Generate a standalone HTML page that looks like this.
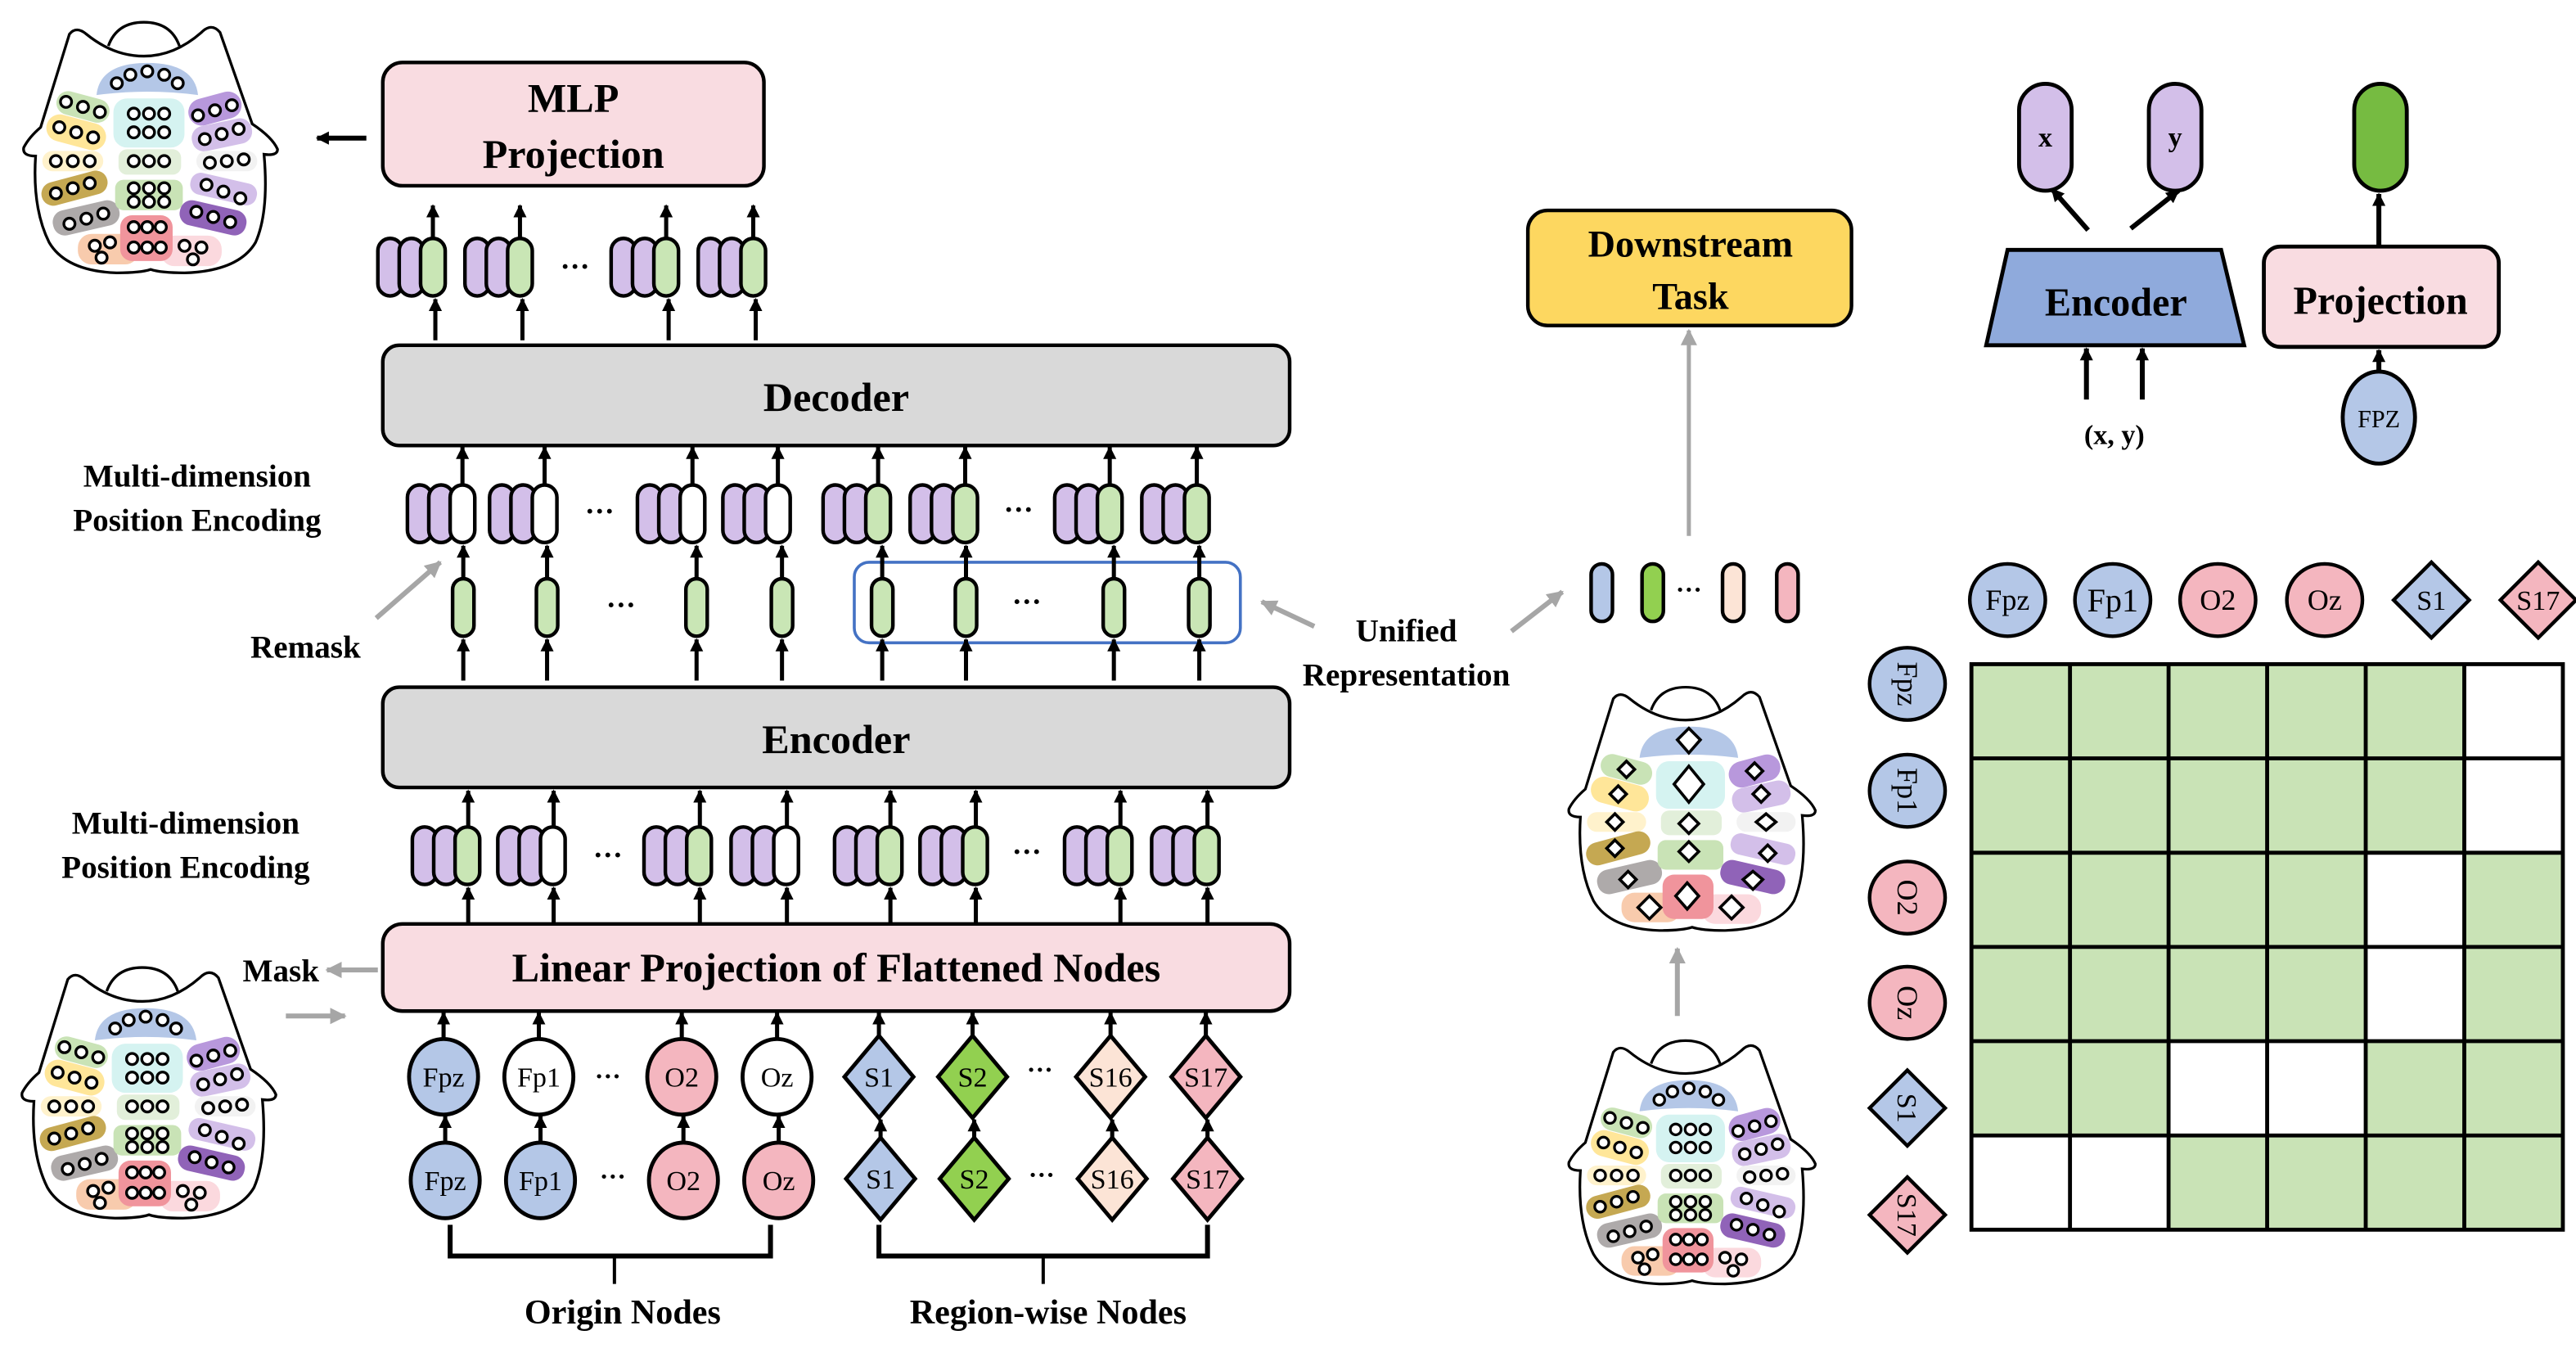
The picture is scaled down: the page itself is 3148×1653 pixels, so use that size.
<!DOCTYPE html>
<html><head><meta charset="utf-8"><style>
html,body{margin:0;padding:0;background:#fff}
svg{display:block}
.b{font-family:"Liberation Serif",serif;font-weight:bold;fill:#000}
.r{font-family:"Liberation Serif",serif;fill:#000}
</style></head><body>
<svg width="3148" height="1653" viewBox="0 0 1568 823" preserveAspectRatio="none" xmlns="http://www.w3.org/2000/svg" xmlns:xlink="http://www.w3.org/1999/xlink">
<defs>
<marker id="ah" viewBox="0 0 10 10" refX="9" refY="5" markerWidth="8" markerHeight="9" markerUnits="userSpaceOnUse" orient="auto"><path d="M0,0 L10,5 L0,10 Z" fill="#000"/></marker>
<marker id="ahg" viewBox="0 0 10 10" refX="9" refY="5" markerWidth="10" markerHeight="10" markerUnits="userSpaceOnUse" orient="auto"><path d="M0,0 L10,5 L0,10 Z" fill="#a6a6a6"/></marker>
<g id="brain">
<path d="M65,32 Q70,18 86,18 Q102,18 107,32" fill="#fff" stroke="#000" stroke-width="1.6"/>
<path d="M42,25 Q46,20 52,25 Q68,38 86,38 Q104,38 120,24 Q126,18 131,24 L150,78 Q162,86 165,93 Q165,97 157,96 Q160,130 152,148 Q142,165 110,166 Q96,166 90,164 Q84,166 70,166 Q40,165 30,148 Q20,128 22,97 Q14,97 15,92 Q18,86 25,80 Z" fill="#fff" stroke="#000" stroke-width="1.6"/>
<path d="M58,61 Q60,42 88,42 Q116,42 118,61 Q88,57 58,61Z" fill="#b4c7e7"/>
<rect x="34" y="61" width="32" height="14" rx="7" fill="#c9e3b6" transform="rotate(15 50 68)"/>
<rect x="28" y="75" width="36" height="16" rx="8" fill="#ffe699" transform="rotate(15 46 83)"/>
<rect x="26" y="94" width="36" height="12" rx="6" fill="#fff2cc"/>
<rect x="25" y="109" width="40" height="14" rx="7" fill="#c5a852" transform="rotate(-15 45 116)"/>
<rect x="32" y="126" width="40" height="15" rx="7" fill="#aeaaaa" transform="rotate(-13 52 134)"/>
<rect x="47" y="143" width="36" height="18" rx="8" fill="#f8cbad"/>
<rect x="96" y="144" width="36" height="18" rx="8" fill="#fbd9de"/>
<rect x="68" y="63" width="42" height="29" rx="8" fill="#d5f3f1"/>
<rect x="71" y="93" width="37" height="15" rx="5" fill="#e2efda"/>
<rect x="69" y="111" width="40" height="18" rx="5" fill="#c9e3b6"/>
<rect x="72" y="132" width="31" height="27" rx="7" fill="#f0949c"/>
<rect x="112" y="61" width="32" height="16" rx="8" fill="#b898dc" transform="rotate(-15 128 69)"/>
<rect x="114" y="77" width="36" height="15" rx="7" fill="#d3bfe9" transform="rotate(-12 132 84)"/>
<rect x="117" y="94" width="36" height="12" rx="6" fill="#f2f2f2"/>
<rect x="113" y="110" width="40" height="13" rx="6" fill="#d3bfe9" transform="rotate(13 133 117)"/>
<rect x="107" y="126" width="40" height="15" rx="7" fill="#9063b8" transform="rotate(13 127 133)"/>
</g>
<g id="circ" fill="#fff" stroke="#000" stroke-width="1.6">
<circle cx="70" cy="54" r="3.3"/><circle cx="78" cy="49" r="3.3"/><circle cx="88" cy="47" r="3.3"/><circle cx="98" cy="49" r="3.3"/><circle cx="106" cy="54" r="3.3"/>
<circle cx="40" cy="65" r="3.3"/><circle cx="50" cy="68" r="3.3"/><circle cx="60" cy="71" r="3.3"/>
<circle cx="36" cy="80" r="3.3"/><circle cx="46" cy="83" r="3.3"/><circle cx="56" cy="86" r="3.3"/>
<circle cx="34" cy="100" r="3.3"/><circle cx="44" cy="100" r="3.3"/><circle cx="54" cy="100" r="3.3"/>
<circle cx="34" cy="119" r="3.3"/><circle cx="44" cy="116" r="3.3"/><circle cx="54" cy="113" r="3.3"/>
<circle cx="42" cy="137" r="3.3"/><circle cx="52" cy="134" r="3.3"/><circle cx="62" cy="131" r="3.3"/>
<circle cx="57" cy="150" r="3.3"/><circle cx="66" cy="148" r="3.3"/><circle cx="61" cy="157" r="3.3"/>
<circle cx="80" cy="72" r="3.3"/><circle cx="89" cy="72" r="3.3"/><circle cx="98" cy="72" r="3.3"/><circle cx="80" cy="83" r="3.3"/><circle cx="89" cy="83" r="3.3"/><circle cx="98" cy="83" r="3.3"/>
<circle cx="80" cy="100" r="3.3"/><circle cx="89" cy="100" r="3.3"/><circle cx="98" cy="100" r="3.3"/>
<circle cx="80" cy="116" r="3.3"/><circle cx="89" cy="116" r="3.3"/><circle cx="98" cy="116" r="3.3"/><circle cx="80" cy="124" r="3.3"/><circle cx="89" cy="124" r="3.3"/><circle cx="98" cy="124" r="3.3"/>
<circle cx="80" cy="139" r="3.3"/><circle cx="88" cy="139" r="3.3"/><circle cx="96" cy="139" r="3.3"/><circle cx="80" cy="151" r="3.3"/><circle cx="88" cy="151" r="3.3"/><circle cx="96" cy="151" r="3.3"/>
<circle cx="110" cy="150" r="3.3"/><circle cx="120" cy="151" r="3.3"/><circle cx="115" cy="158" r="3.3"/>
<circle cx="118" cy="73" r="3.3"/><circle cx="128" cy="70" r="3.3"/><circle cx="138" cy="67" r="3.3"/>
<circle cx="122" cy="87" r="3.3"/><circle cx="132" cy="84" r="3.3"/><circle cx="142" cy="81" r="3.3"/>
<circle cx="125" cy="101" r="3.3"/><circle cx="135" cy="100" r="3.3"/><circle cx="145" cy="99" r="3.3"/>
<circle cx="123" cy="114" r="3.3"/><circle cx="133" cy="118" r="3.3"/><circle cx="143" cy="122" r="3.3"/>
<circle cx="117" cy="130" r="3.3"/><circle cx="127" cy="133" r="3.3"/><circle cx="137" cy="136" r="3.3"/>
</g>
<g id="diam" fill="#fff" stroke="#000" stroke-width="1.8">
<path d="M88,43 l7,7 l-7,8 l-7,-8z"/>
<path d="M50,63 l5,5 l-5,5 l-5,-5z"/><path d="M45,78 l5,5 l-5,5 l-5,-5z"/><path d="M43,95 l5,5 l-5,5 l-5,-5z"/>
<path d="M43,111 l5,5 l-5,5 l-5,-5z"/><path d="M51,130 l5,5 l-5,5 l-5,-5z"/><path d="M64,145 l7,7 l-7,7 l-7,-7z"/>
<path d="M88,66 l9,11 l-9,11 l-9,-11z"/><path d="M88,95 l6,6 l-6,6 l-6,-6z"/><path d="M88,112 l6,6 l-6,6 l-6,-6z"/>
<path d="M87,137 l7,8 l-7,8 l-7,-8z"/><path d="M114,145 l7,7 l-7,7 l-7,-7z"/>
<path d="M128,64 l5,5 l-5,5 l-5,-5z"/><path d="M132,78 l5,5 l-5,5 l-5,-5z"/><path d="M135,95 l6,5 l-6,5 l-6,-5z"/>
<path d="M136,114 l5,5 l-5,5 l-5,-5z"/><path d="M127,130 l6,5 l-6,6 l-6,-6z"/>
</g>
<g id="g3p" stroke="#000" stroke-width="2.2"><rect x="0" y="0" width="15" height="35" rx="7.5" fill="#d3bfe9"/><rect x="13" y="0" width="15" height="35" rx="7.5" fill="#d3bfe9"/><rect x="26" y="0" width="15" height="35" rx="7.5" fill="#c9e6b5"/></g>
<g id="g3w" stroke="#000" stroke-width="2.2"><rect x="0" y="0" width="15" height="35" rx="7.5" fill="#d3bfe9"/><rect x="13" y="0" width="15" height="35" rx="7.5" fill="#d3bfe9"/><rect x="26" y="0" width="15" height="35" rx="7.5" fill="#fff"/></g>
<rect id="sg" x="-6.5" y="0" width="13" height="35" rx="6.5" fill="#c9e6b5" stroke="#000" stroke-width="2.2"/>
</defs>

<g transform="translate(-1,-5) scale(1.03)"><use xlink:href="#brain"/><use xlink:href="#circ"/></g>
<g transform="translate(-2,570) scale(1.03)"><use xlink:href="#brain"/><use xlink:href="#circ"/></g>
<g transform="translate(940,400)"><use xlink:href="#brain"/><use xlink:href="#diam"/></g>
<g transform="translate(940,615)"><use xlink:href="#brain"/><use xlink:href="#circ"/></g>

<rect x="233" y="38" width="232" height="75" rx="12" fill="#f9dce1" stroke="#000" stroke-width="2.2"/>
<text class="b" x="349" y="68" font-size="25" text-anchor="middle">MLP</text>
<text class="b" x="349" y="102" font-size="25" text-anchor="middle">Projection</text>
<line x1="223" y1="84" x2="193" y2="84" stroke="#000" stroke-width="3" marker-end="url(#ah)"/>

<use xlink:href="#g3p" x="230" y="145"/><use xlink:href="#g3p" x="283" y="145"/><use xlink:href="#g3p" x="372" y="145"/><use xlink:href="#g3p" x="425" y="145"/>
<text class="b" x="350" y="168" font-size="18" text-anchor="middle">···</text>
<g stroke="#000" stroke-width="2.5" marker-end="url(#ah)">
<line x1="263.5" y1="145" x2="263.5" y2="125"/><line x1="316.5" y1="145" x2="316.5" y2="125"/><line x1="405.5" y1="145" x2="405.5" y2="125"/><line x1="458.5" y1="145" x2="458.5" y2="125"/>
<line x1="265" y1="207" x2="265" y2="182"/><line x1="318" y1="207" x2="318" y2="182"/><line x1="407" y1="207" x2="407" y2="182"/><line x1="460" y1="207" x2="460" y2="182"/>
</g>

<rect x="233" y="210" width="552" height="61" rx="10" fill="#d9d9d9" stroke="#000" stroke-width="2.2"/>
<text class="b" x="509" y="250" font-size="25" text-anchor="middle">Decoder</text>

<text class="b" x="120" y="296" font-size="19.5" text-anchor="middle">Multi-dimension</text>
<text class="b" x="120" y="323" font-size="19.5" text-anchor="middle">Position Encoding</text>

<use xlink:href="#g3w" x="248" y="295"/><use xlink:href="#g3w" x="298" y="295"/><use xlink:href="#g3w" x="388" y="295"/><use xlink:href="#g3w" x="440" y="295"/>
<use xlink:href="#g3p" x="501" y="295"/><use xlink:href="#g3p" x="554" y="295"/><use xlink:href="#g3p" x="642" y="295"/><use xlink:href="#g3p" x="695" y="295"/>
<text class="b" x="365" y="317" font-size="18" text-anchor="middle">···</text>
<text class="b" x="620" y="316" font-size="18" text-anchor="middle">···</text>
<g stroke="#000" stroke-width="2.5" marker-end="url(#ah)">
<line x1="281.5" y1="295" x2="281.5" y2="272"/><line x1="331.5" y1="295" x2="331.5" y2="272"/><line x1="421.5" y1="295" x2="421.5" y2="272"/><line x1="473.5" y1="295" x2="473.5" y2="272"/>
<line x1="534.5" y1="295" x2="534.5" y2="272"/><line x1="587.5" y1="295" x2="587.5" y2="272"/><line x1="675.5" y1="295" x2="675.5" y2="272"/><line x1="728.5" y1="295" x2="728.5" y2="272"/>
</g>

<rect x="520" y="342" width="235" height="49" rx="9" fill="none" stroke="#4472c4" stroke-width="1.8"/>
<use xlink:href="#sg" x="282" y="352"/><use xlink:href="#sg" x="333" y="352"/><use xlink:href="#sg" x="424" y="352"/><use xlink:href="#sg" x="476" y="352"/>
<use xlink:href="#sg" x="537" y="352"/><use xlink:href="#sg" x="588" y="352"/><use xlink:href="#sg" x="678" y="352"/><use xlink:href="#sg" x="730" y="352"/>
<text class="b" x="378" y="374" font-size="18" text-anchor="middle">···</text>
<text class="b" x="625" y="372" font-size="18" text-anchor="middle">···</text>
<g stroke="#000" stroke-width="2.5" marker-end="url(#ah)">
<line x1="282" y1="352" x2="282" y2="332"/><line x1="333" y1="352" x2="333" y2="332"/><line x1="424" y1="352" x2="424" y2="332"/><line x1="476" y1="352" x2="476" y2="332"/>
<line x1="537" y1="352" x2="537" y2="332"/><line x1="588" y1="352" x2="588" y2="332"/><line x1="678" y1="352" x2="678" y2="332"/><line x1="730" y1="352" x2="730" y2="332"/>
<line x1="282" y1="414" x2="282" y2="389"/><line x1="333" y1="414" x2="333" y2="389"/><line x1="424" y1="414" x2="424" y2="389"/><line x1="476" y1="414" x2="476" y2="389"/>
<line x1="537" y1="414" x2="537" y2="389"/><line x1="588" y1="414" x2="588" y2="389"/><line x1="678" y1="414" x2="678" y2="389"/><line x1="730" y1="414" x2="730" y2="389"/>
</g>

<text class="b" x="186" y="400" font-size="19.5" text-anchor="middle">Remask</text>
<line x1="229" y1="376" x2="268" y2="342" stroke="#a6a6a6" stroke-width="3" marker-end="url(#ahg)"/>
<text class="b" x="856" y="390" font-size="19.5" text-anchor="middle">Unified</text>
<text class="b" x="856" y="417" font-size="19.5" text-anchor="middle">Representation</text>
<line x1="800" y1="381" x2="768" y2="366" stroke="#a6a6a6" stroke-width="3" marker-end="url(#ahg)"/>
<line x1="920" y1="384" x2="951" y2="360" stroke="#a6a6a6" stroke-width="3" marker-end="url(#ahg)"/>

<rect x="233" y="418" width="552" height="61" rx="10" fill="#d9d9d9" stroke="#000" stroke-width="2.2"/>
<text class="b" x="509" y="458" font-size="25" text-anchor="middle">Encoder</text>

<text class="b" x="113" y="507" font-size="19.5" text-anchor="middle">Multi-dimension</text>
<text class="b" x="113" y="534" font-size="19.5" text-anchor="middle">Position Encoding</text>

<use xlink:href="#g3p" x="251" y="503"/><use xlink:href="#g3w" x="303" y="503"/><use xlink:href="#g3p" x="392" y="503"/><use xlink:href="#g3w" x="445" y="503"/>
<use xlink:href="#g3p" x="508" y="503"/><use xlink:href="#g3p" x="560" y="503"/><use xlink:href="#g3p" x="648" y="503"/><use xlink:href="#g3p" x="701" y="503"/>
<text class="b" x="370" y="526" font-size="18" text-anchor="middle">···</text>
<text class="b" x="625" y="524" font-size="18" text-anchor="middle">···</text>
<g stroke="#000" stroke-width="2.5" marker-end="url(#ah)">
<line x1="285" y1="503" x2="285" y2="481"/><line x1="337" y1="503" x2="337" y2="481"/><line x1="426" y1="503" x2="426" y2="481"/><line x1="479" y1="503" x2="479" y2="481"/>
<line x1="542" y1="503" x2="542" y2="481"/><line x1="594" y1="503" x2="594" y2="481"/><line x1="682" y1="503" x2="682" y2="481"/><line x1="735" y1="503" x2="735" y2="481"/>
<line x1="285" y1="562" x2="285" y2="540"/><line x1="337" y1="562" x2="337" y2="540"/><line x1="426" y1="562" x2="426" y2="540"/><line x1="479" y1="562" x2="479" y2="540"/>
<line x1="542" y1="562" x2="542" y2="540"/><line x1="594" y1="562" x2="594" y2="540"/><line x1="682" y1="562" x2="682" y2="540"/><line x1="735" y1="562" x2="735" y2="540"/>
</g>

<rect x="233" y="562" width="552" height="53" rx="12" fill="#f9dce1" stroke="#000" stroke-width="2.2"/>
<text class="b" x="509" y="597" font-size="25" text-anchor="middle">Linear Projection of Flattened Nodes</text>
<text class="b" x="171" y="597" font-size="19.5" text-anchor="middle">Mask</text>
<line x1="230" y1="590" x2="199" y2="590" stroke="#a6a6a6" stroke-width="3" marker-end="url(#ahg)"/>
<line x1="174" y1="618" x2="210" y2="618" stroke="#a6a6a6" stroke-width="3" marker-end="url(#ahg)"/>

<g stroke="#000" stroke-width="2.4">
<ellipse cx="270" cy="655" rx="21" ry="23" fill="#b4c7e7"/><ellipse cx="328" cy="655" rx="21" ry="23" fill="#fff"/>
<ellipse cx="415" cy="655" rx="21" ry="23" fill="#f4b6bf"/><ellipse cx="473" cy="655" rx="21" ry="23" fill="#fff"/>
<ellipse cx="271" cy="718" rx="21" ry="23" fill="#b4c7e7"/><ellipse cx="329" cy="718" rx="21" ry="23" fill="#b4c7e7"/>
<ellipse cx="416" cy="718" rx="21" ry="23" fill="#f4b6bf"/><ellipse cx="474" cy="718" rx="21" ry="23" fill="#f4b6bf"/>
<path d="M535,630 l21,25 l-21,25 l-21,-25z" fill="#b4c7e7"/><path d="M592,630 l21,25 l-21,25 l-21,-25z" fill="#92d050"/>
<path d="M676,630 l21,25 l-21,25 l-21,-25z" fill="#fce4d6"/><path d="M734,630 l21,25 l-21,25 l-21,-25z" fill="#f4b6bf"/>
<path d="M536,692 l21,25 l-21,25 l-21,-25z" fill="#b4c7e7"/><path d="M593,692 l21,25 l-21,25 l-21,-25z" fill="#92d050"/>
<path d="M677,692 l21,25 l-21,25 l-21,-25z" fill="#fce4d6"/><path d="M735,692 l21,25 l-21,25 l-21,-25z" fill="#f4b6bf"/>
</g>
<g class="r" font-size="17" text-anchor="middle">
<text x="270" y="661">Fpz</text><text x="328" y="661">Fp1</text><text x="415" y="661">O2</text><text x="473" y="661">Oz</text>
<text x="271" y="724">Fpz</text><text x="329" y="724">Fp1</text><text x="416" y="724">O2</text><text x="474" y="724">Oz</text>
<text x="535" y="661">S1</text><text x="592" y="661">S2</text><text x="676" y="661">S16</text><text x="734" y="661">S17</text>
<text x="536" y="723">S1</text><text x="593" y="723">S2</text><text x="677" y="723">S16</text><text x="735" y="723">S17</text>
</g>
<text class="b" x="370" y="660" font-size="16" text-anchor="middle">···</text>
<text class="b" x="373" y="721" font-size="16" text-anchor="middle">···</text>
<text class="b" x="633" y="656" font-size="16" text-anchor="middle">···</text>
<text class="b" x="634" y="720" font-size="16" text-anchor="middle">···</text>
<g stroke="#000" stroke-width="2.5" marker-end="url(#ah)">
<line x1="270" y1="632" x2="270" y2="616"/><line x1="328" y1="632" x2="328" y2="616"/><line x1="415" y1="632" x2="415" y2="616"/><line x1="473" y1="632" x2="473" y2="616"/>
<line x1="535" y1="630" x2="535" y2="616"/><line x1="592" y1="630" x2="592" y2="616"/><line x1="676" y1="630" x2="676" y2="616"/><line x1="734" y1="630" x2="734" y2="616"/>
<line x1="271" y1="695" x2="271" y2="679"/><line x1="329" y1="695" x2="329" y2="679"/><line x1="416" y1="695" x2="416" y2="679"/><line x1="474" y1="695" x2="474" y2="679"/>
<line x1="536" y1="692" x2="536" y2="681"/><line x1="593" y1="692" x2="593" y2="681"/><line x1="677" y1="692" x2="677" y2="681"/><line x1="735" y1="692" x2="735" y2="681"/>
</g>

<g fill="none" stroke="#000" stroke-width="3">
<path d="M274,745 V764 H469 V745"/><path d="M374,764 V781" stroke-width="2"/>
<path d="M535,745 V764 H735 V745"/><path d="M635,764 V781" stroke-width="2"/>
</g>
<text class="b" x="379" y="805" font-size="21" text-anchor="middle">Origin Nodes</text>
<text class="b" x="638" y="805" font-size="21" text-anchor="middle">Region-wise Nodes</text>

<rect x="930" y="128" width="197" height="70" rx="12" fill="#fdd760" stroke="#000" stroke-width="2.2"/>
<text class="b" x="1029" y="156" font-size="23" text-anchor="middle">Downstream</text>
<text class="b" x="1029" y="188" font-size="23" text-anchor="middle">Task</text>
<line x1="1028" y1="326" x2="1028" y2="201" stroke="#a6a6a6" stroke-width="2.5" marker-end="url(#ahg)"/>
<line x1="1021" y1="618" x2="1021" y2="577" stroke="#a6a6a6" stroke-width="3" marker-end="url(#ahg)"/>

<g stroke="#000" stroke-width="2.2">
<rect x="968.5" y="343" width="13" height="35" rx="6.5" fill="#b4c7e7"/>
<rect x="999.5" y="343" width="13" height="35" rx="6.5" fill="#92d050"/>
<rect x="1048.5" y="343" width="13" height="35" rx="6.5" fill="#fce4d6"/>
<rect x="1081.5" y="343" width="13" height="35" rx="6.5" fill="#f4b6bf"/>
</g>
<text class="b" x="1028" y="364" font-size="16" text-anchor="middle">···</text>

<g stroke="#000" stroke-width="2.4">
<rect x="1229" y="51" width="32" height="65" rx="16" fill="#d3bfe9"/>
<rect x="1308" y="51" width="32" height="65" rx="16" fill="#d3bfe9"/>
<rect x="1433" y="51" width="32" height="65" rx="16" fill="#76bb41"/>
<path d="M1222,152 H1352 L1366,210 H1209 Z" fill="#8faadc"/>
<rect x="1378" y="150" width="143" height="61" rx="10" fill="#f9dce1"/>
<ellipse cx="1448" cy="254" rx="22" ry="28" fill="#b4c7e7"/>
</g>
<text class="b" x="1245" y="89" font-size="17" text-anchor="middle">x</text>
<text class="b" x="1324" y="89" font-size="17" text-anchor="middle">y</text>
<text class="b" x="1288" y="192" font-size="24" text-anchor="middle">Encoder</text>
<text class="b" x="1449" y="191" font-size="24" text-anchor="middle">Projection</text>
<text class="r" x="1448" y="260" font-size="15" text-anchor="middle">FPZ</text>
<text class="b" x="1287" y="270" font-size="17" text-anchor="middle">(x, y)</text>
<g stroke="#000" stroke-width="3" marker-end="url(#ah)">
<line x1="1271" y1="140" x2="1249" y2="115"/><line x1="1297" y1="139" x2="1326" y2="116"/>
<line x1="1448" y1="150" x2="1448" y2="118"/>
<line x1="1270" y1="243" x2="1270" y2="212"/><line x1="1304" y1="243" x2="1304" y2="212"/>
<line x1="1448" y1="226" x2="1448" y2="213"/>
</g>

<g stroke="#000" stroke-width="2.2">
<ellipse cx="1222" cy="365" rx="23" ry="22" fill="#b4c7e7"/><ellipse cx="1286" cy="365" rx="23" ry="22" fill="#b4c7e7"/>
<ellipse cx="1350" cy="365" rx="23" ry="22" fill="#f4b6bf"/><ellipse cx="1415" cy="365" rx="23" ry="22" fill="#f4b6bf"/>
<path d="M1480,342 l23,23 l-23,23 l-23,-23z" fill="#b4c7e7"/><path d="M1545,342 l23,23 l-23,23 l-23,-23z" fill="#f4b6bf"/>
<ellipse cx="1161" cy="416" rx="23" ry="22" fill="#b4c7e7"/><ellipse cx="1161" cy="481" rx="23" ry="22" fill="#b4c7e7"/>
<ellipse cx="1161" cy="546" rx="23" ry="22" fill="#f4b6bf"/><ellipse cx="1161" cy="610" rx="23" ry="22" fill="#f4b6bf"/>
<path d="M1161,651 l23,23 l-23,23 l-23,-23z" fill="#b4c7e7"/><path d="M1161,716 l23,23 l-23,23 l-23,-23z" fill="#f4b6bf"/>
</g>
<g class="r" font-size="18" text-anchor="middle">
<text x="1222" y="371">Fpz</text><text x="1286" y="372" font-size="20">Fp1</text><text x="1350" y="371">O2</text><text x="1415" y="371">Oz</text>
<text x="1480" y="371" font-size="17">S1</text><text x="1545" y="371" font-size="17">S17</text>
<text transform="translate(1155,416) rotate(90)">Fpz</text>
<text transform="translate(1155,481) rotate(90)">Fp1</text>
<text transform="translate(1155,546) rotate(90)">O2</text>
<text transform="translate(1155,610) rotate(90)">Oz</text>
<text transform="translate(1155,674) rotate(90)" font-size="17">S1</text>
<text transform="translate(1155,739) rotate(90)" font-size="17">S17</text>
</g>

<rect x="1200" y="404" width="360" height="344" fill="#c9e3b6"/>
<g fill="#fff">
<rect x="1500" y="404" width="60" height="114.7"/>
<rect x="1440" y="518.7" width="60" height="114.7"/>
<rect x="1320" y="633.3" width="120" height="57.3"/>
<rect x="1200" y="690.7" width="120" height="57.3"/>
</g>
<g stroke="#000" stroke-width="2.4" fill="none">
<rect x="1200" y="404" width="360" height="344"/>
<path d="M1260,404V748M1320,404V748M1380,404V748M1440,404V748M1500,404V748M1200,461.3H1560M1200,518.7H1560M1200,576H1560M1200,633.3H1560M1200,690.7H1560"/>
</g>
</svg>
</body></html>
